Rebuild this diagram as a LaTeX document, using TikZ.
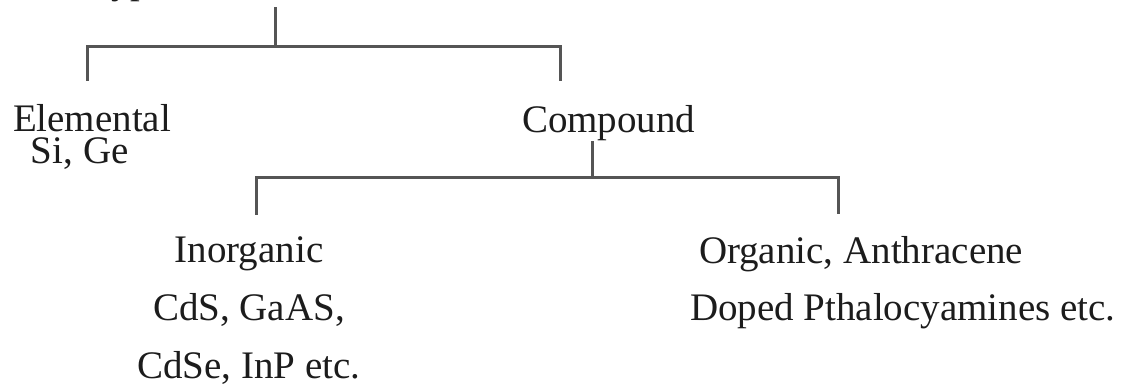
\documentclass[tikz,border=0pt]{standalone}
\usepackage{fontspec}
\setmainfont{Liberation Serif}
\usepackage{tikz}
\usetikzlibrary{positioning, calc}
\definecolor{inkc}{HTML}{1C1C1C}
\definecolor{branchc}{HTML}{555555}
\tikzset{lbl/.style={inner sep=0pt, outer sep=0pt, text=inkc, font=\fontsize{19.5}{29}\selectfont}}
\tikzset{branch/.style={draw=branchc, line width=1.5pt, line cap=rect}}
\tikzset{elbow/.style={branch, line join=miter}}

\begin{document}
\begin{tikzpicture}[x=0.5pt, y=-0.5pt]
		\useasboundingbox (0,0) rectangle (1128,385);
		\clip (0,0) rectangle (1128,385);
		\node[lbl, anchor=base west] (title) at (90,-6) {Types of Semiconductors};
		\node[lbl, anchor=base west] (elem) at (13,131) {Elemental};
		\node[lbl, anchor=base west] (elemx) at (31,163) {Si, Ge};
		\node[lbl, anchor=base west] (comp) at (522,133) {Compound};
		\node[lbl, anchor=base, align=center] (inorg) at (249,378)
			{Inorganic\\CdS, GaAS,\\CdSe, InP etc.};
		\node[lbl, anchor=base west] (org) at (699,263) {Organic, Anthracene};
		\node[lbl, anchor=base west] (orgx) at (690,320) {Doped Pthalocyamines etc.};
		% first level
		\coordinate (top) at (275,9);
		\coordinate (barL) at (87,47);
		\coordinate (barR) at (560,47);
		\coordinate (dropL) at (87,80);
		\coordinate (dropR) at (560,80);
		\draw[branch] (top) -- (top |- barL);
		\draw[elbow] (dropL) -- (barL) -- (barR) -- (dropR);
		% second level
		\coordinate (ctop) at (592,142);
		\coordinate (subL) at (256,177);
		\coordinate (subR) at (838,177);
		\coordinate (subdL) at (256,213);
		\coordinate (subdR) at (838,212);
		\draw[branch] (ctop) -- (ctop |- subL);
		\draw[elbow] (subdL) -- (subL) -- (subR) -- (subdR);
	\end{tikzpicture}
\end{document}
